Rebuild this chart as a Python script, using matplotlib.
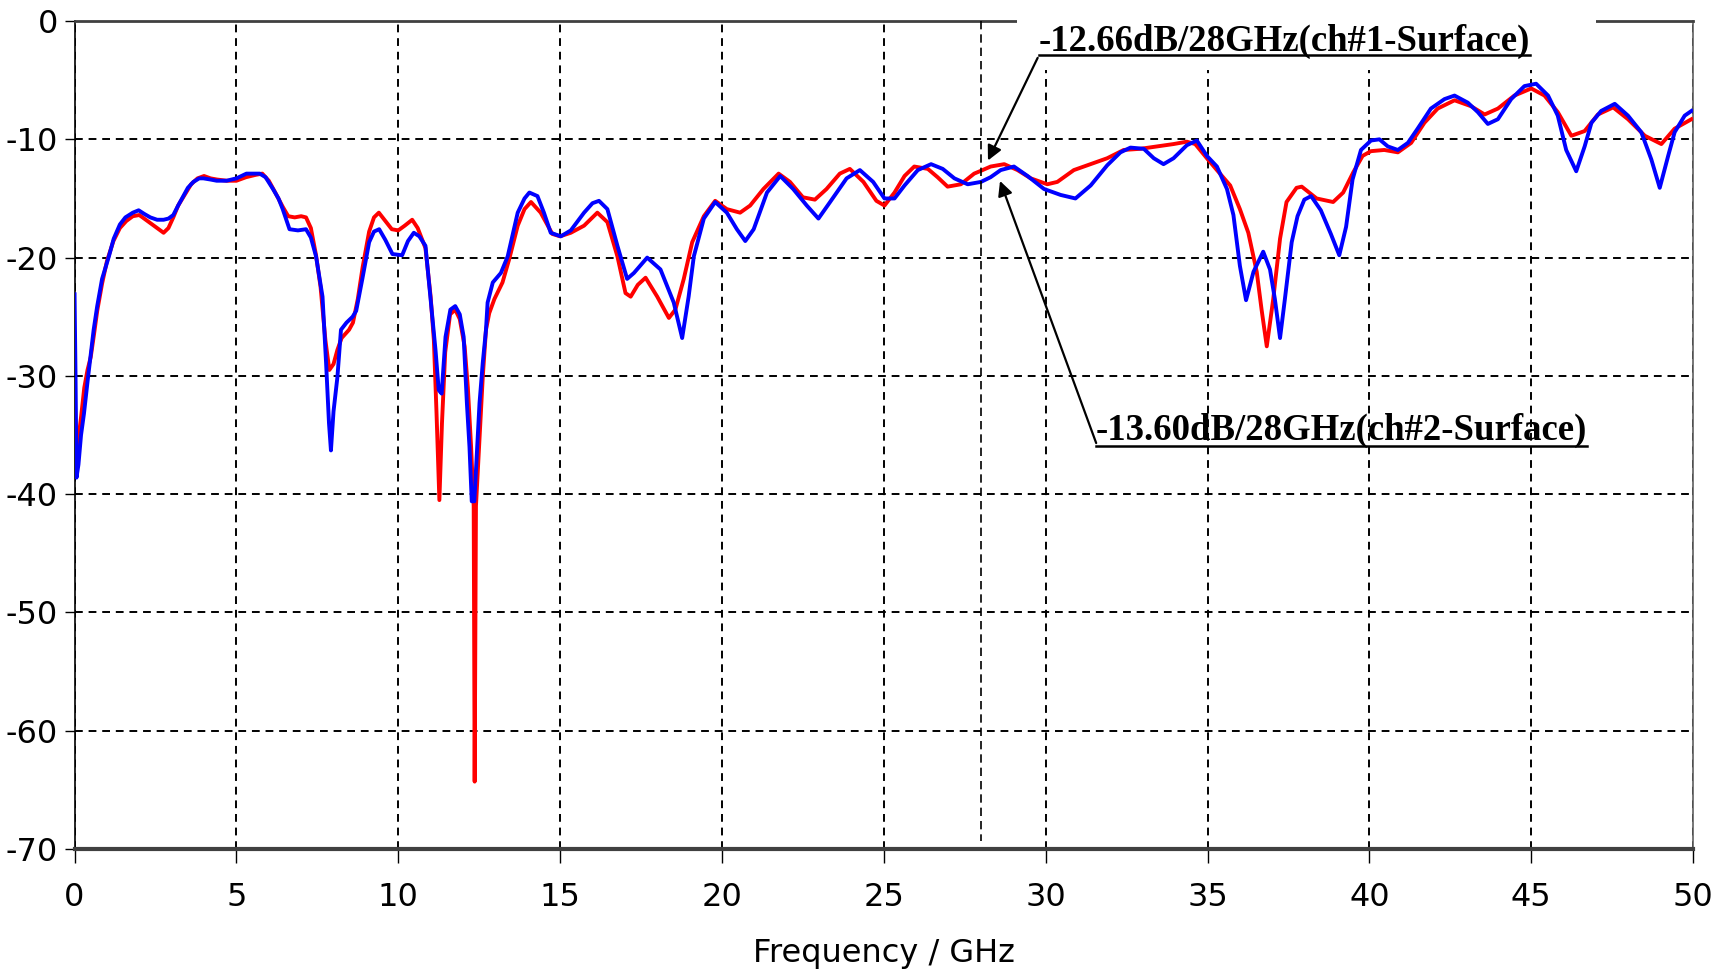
import numpy as np
import matplotlib
matplotlib.use("Agg")
import matplotlib.pyplot as plt
from matplotlib.patches import Rectangle

# ch#1 (red) reflection curve
freq_ch1 = [0.00, 0.05, 0.12, 0.2, 0.3, 0.4, 0.5, 0.6, 0.7, 0.85, 1.0, 1.2, 1.4, 1.6, 1.8, 2.0, 2.2, 2.4, 2.6, 2.75,
            2.9, 3.05, 3.2, 3.4, 3.6, 3.8, 4.0, 4.2, 4.4, 4.7, 5.0, 5.3, 5.6, 5.8, 6.0, 6.2, 6.43, 6.6, 6.8, 7.0,
            7.15, 7.3, 7.46, 7.6, 7.75, 7.87, 8.0, 8.12, 8.25, 8.48, 8.6, 8.75, 8.9, 9.1, 9.25, 9.4, 9.6, 9.8, 10.0, 10.2,
            10.43, 10.6, 10.84, 11.0, 11.1, 11.18, 11.27, 11.35, 11.45, 11.6, 11.76, 11.9, 12.05, 12.15, 12.25, 12.33, 12.36, 12.40, 12.51, 12.61,
            12.71, 12.81, 12.97, 13.22, 13.43, 13.69, 13.9, 14.1, 14.4, 14.76, 15.0, 15.33, 15.74, 16.15, 16.46, 16.77, 17.02, 17.18, 17.4, 17.64,
            18.0, 18.36, 18.56, 18.82, 19.08, 19.44, 19.79, 20.15, 20.56, 20.87, 21.28, 21.75, 22.1, 22.5, 22.87, 23.23, 23.64, 23.95, 24.37, 24.77,
            25.02, 25.33, 25.64, 25.94, 26.36, 26.66, 26.97, 27.38, 27.79, 28.0, 28.3, 28.72, 29.13, 29.54, 30.05, 30.36, 30.87, 31.39, 31.9, 32.41,
            32.93, 33.44, 33.95, 34.36, 34.62, 34.98, 35.29, 35.7, 36.0, 36.26, 36.52, 36.67, 36.83, 37.03, 37.24, 37.44, 37.75, 37.91, 38.37, 38.88,
            39.19, 39.5, 39.79, 40.05, 40.46, 40.88, 41.29, 41.7, 42.11, 42.63, 43.14, 43.56, 43.97, 44.48, 45.0, 45.41, 45.82, 46.24, 46.65, 47.06,
            47.53, 47.99, 48.51, 49.02, 49.43, 49.95]
s_ch1 = [-33.0, -36.5, -35.3, -33.5, -31.0, -29.5, -28.4, -26.5, -24.5, -22.2, -20.3, -18.6, -17.5, -16.9, -16.5, -16.4, -16.8, -17.2, -17.6, -17.9,
         -17.5, -16.6, -15.6, -14.7, -13.8, -13.3, -13.1, -13.3, -13.4, -13.5, -13.5, -13.2, -13.0, -12.9, -13.5, -14.5, -15.7, -16.5, -16.6, -16.5,
         -16.6, -17.5, -19.8, -22.5, -27.0, -29.5, -29.0, -27.8, -26.8, -26.1, -25.5, -23.5, -20.8, -17.8, -16.6, -16.2, -16.9, -17.6, -17.7, -17.3,
         -16.8, -17.5, -19.2, -23.3, -27.0, -33.0, -40.5, -34.0, -28.0, -24.8, -24.4, -25.2, -27.5, -31.0, -36.0, -41.0, -64.3, -41.0, -35.2, -30.1,
         -26.1, -24.7, -23.5, -22.1, -20.1, -17.3, -15.9, -15.3, -16.2, -18.0, -18.2, -17.9, -17.3, -16.2, -17.0, -19.9, -23.0, -23.3, -22.3, -21.7,
         -23.3, -25.1, -24.4, -21.8, -18.7, -16.5, -15.2, -15.9, -16.2, -15.6, -14.2, -12.9, -13.6, -14.9, -15.1, -14.2, -12.9, -12.5, -13.6, -15.2,
         -15.6, -14.5, -13.1, -12.3, -12.5, -13.2, -14.0, -13.8, -12.9, -12.66, -12.3, -12.1, -12.6, -13.3, -13.8, -13.6, -12.6, -12.1, -11.6, -10.9,
         -10.8, -10.6, -10.4, -10.2, -10.4, -11.6, -12.6, -13.9, -15.9, -17.9, -21.2, -24.4, -27.5, -23.5, -18.4, -15.3, -14.1, -14.0, -15.0, -15.3,
         -14.5, -12.8, -11.4, -11.0, -10.9, -11.1, -10.3, -8.6, -7.4, -6.7, -7.2, -7.9, -7.4, -6.3, -5.7, -6.3, -7.7, -9.7, -9.3, -7.9,
         -7.3, -8.3, -9.7, -10.4, -9.1, -8.3]

# ch#2 (blue) reflection curve
freq_ch2 = [0.0, 0.03, 0.06, 0.12, 0.2, 0.29, 0.4, 0.49, 0.59, 0.7, 0.85, 1.06, 1.21, 1.4, 1.57, 1.8, 1.98, 2.15, 2.34, 2.55,
            2.75, 2.9, 3.05, 3.2, 3.36, 3.5, 3.67, 3.85, 3.98, 4.2, 4.39, 4.7, 5.0, 5.31, 5.72, 5.9, 6.13, 6.3, 6.43, 6.64,
            6.9, 7.15, 7.3, 7.46, 7.66, 7.77, 7.86, 7.92, 8.0, 8.12, 8.23, 8.4, 8.59, 8.7, 8.89, 9.1, 9.25, 9.41, 9.6, 9.82,
            10.12, 10.3, 10.48, 10.65, 10.84, 10.99, 11.15, 11.25, 11.34, 11.46, 11.61, 11.76, 11.9, 12.02, 12.12, 12.2, 12.27, 12.35, 12.40, 12.51,
            12.61, 12.71, 12.76, 12.92, 13.17, 13.38, 13.69, 13.9, 14.05, 14.3, 14.5, 14.71, 15.02, 15.33, 15.74, 16.0, 16.2, 16.46, 16.77, 17.07,
            17.28, 17.69, 18.1, 18.51, 18.77, 18.97, 19.13, 19.44, 19.79, 20.15, 20.46, 20.72, 20.98, 21.39, 21.8, 22.2, 22.62, 22.98, 23.34, 23.85,
            24.26, 24.67, 25.02, 25.33, 25.64, 26.05, 26.46, 26.82, 27.18, 27.59, 28.0, 28.3, 28.61, 29.02, 29.44, 29.95, 30.46, 30.92, 31.39, 31.9,
            32.31, 32.62, 33.03, 33.34, 33.64, 33.95, 34.36, 34.67, 34.98, 35.29, 35.6, 35.8, 36.0, 36.19, 36.42, 36.72, 36.93, 37.08, 37.24, 37.39,
            37.6, 37.78, 37.99, 38.2, 38.5, 38.81, 39.07, 39.28, 39.48, 39.74, 40.05, 40.31, 40.57, 40.88, 41.19, 41.49, 41.9, 42.32, 42.63, 43.04,
            43.35, 43.66, 43.97, 44.38, 44.79, 45.15, 45.52, 45.82, 46.08, 46.39, 46.65, 46.86, 47.16, 47.58, 47.99, 48.4, 48.71, 48.97, 49.23, 49.43,
            49.74, 49.95]
s_ch2 = [-23.1, -30.0, -38.6, -37.5, -35.0, -33.2, -30.5, -28.4, -26.1, -24.1, -21.8, -19.9, -18.4, -17.2, -16.6, -16.2, -16.0, -16.3, -16.6, -16.8,
         -16.8, -16.7, -16.4, -15.6, -14.8, -14.1, -13.6, -13.3, -13.3, -13.4, -13.5, -13.5, -13.3, -12.9, -12.9, -13.2, -14.2, -15.0, -15.9, -17.6,
         -17.7, -17.6, -18.3, -19.9, -23.3, -28.9, -34.0, -36.3, -33.0, -30.1, -26.1, -25.5, -25.0, -24.5, -21.8, -18.7, -17.8, -17.6, -18.5, -19.7,
         -19.8, -18.6, -17.9, -18.2, -19.0, -23.3, -27.8, -31.2, -31.5, -26.7, -24.4, -24.1, -24.8, -26.7, -32.3, -36.0, -40.6, -40.6, -38.0, -32.3,
         -28.9, -26.1, -23.8, -22.1, -21.3, -19.9, -16.2, -15.0, -14.5, -14.8, -16.2, -17.9, -18.2, -17.7, -16.2, -15.4, -15.2, -15.9, -19.0, -21.8,
         -21.3, -20.0, -21.0, -23.8, -26.8, -23.3, -19.9, -16.7, -15.3, -16.2, -17.6, -18.6, -17.6, -14.5, -13.1, -14.2, -15.6, -16.7, -15.3, -13.3,
         -12.6, -13.6, -15.0, -15.0, -13.9, -12.6, -12.1, -12.5, -13.3, -13.8, -13.6, -13.2, -12.6, -12.3, -13.1, -14.2, -14.7, -15.0, -13.9, -12.2,
         -11.1, -10.7, -10.8, -11.6, -12.1, -11.6, -10.5, -10.1, -11.4, -12.3, -14.2, -16.4, -20.7, -23.6, -21.2, -19.5, -21.0, -23.5, -26.8, -23.5,
         -18.7, -16.5, -15.1, -14.8, -16.0, -18.0, -19.8, -17.4, -13.4, -10.9, -10.1, -10.0, -10.6, -10.9, -10.3, -9.1, -7.4, -6.6, -6.3, -6.9,
         -7.7, -8.7, -8.3, -6.6, -5.5, -5.3, -6.3, -8.0, -10.9, -12.7, -10.6, -8.6, -7.6, -7.0, -8.0, -9.4, -11.7, -14.1, -11.4, -9.4,
         -8.0, -7.6]

x_ticks = [0, 5, 10, 15, 20, 25, 30, 35, 40, 45, 50]
y_ticks = [0, -10, -20, -30, -40, -50, -60, -70]
marker_freq = 28
label_ch1 = "-12.66dB/28GHz(ch#1-Surface)"
label_ch2 = "-13.60dB/28GHz(ch#2-Surface)"

plt.rcParams['axes.unicode_minus'] = False
tick_font = ['Liberation Sans Narrow', 'DejaVu Sans']

fig = plt.figure(figsize=(17.18, 9.74), dpi=100)
ax = fig.add_axes([0.0434, 0.1283, 0.9421, 0.8501])

ax.plot(freq_ch1, s_ch1, color='#ff0000', lw=2.8, zorder=3)
ax.plot(freq_ch2, s_ch2, color='#0000ff', lw=2.8, zorder=4)

ax.set_xlim(0, 50)
ax.set_ylim(-70, 0)
ax.set_xticks(x_ticks)
ax.set_yticks(y_ticks)
ax.set_xticklabels([str(v) for v in x_ticks], family=tick_font, fontsize=23)
ax.set_yticklabels([str(v) for v in y_ticks], family=tick_font, fontsize=23)
ax.tick_params(axis='x', direction='out', length=10, width=1, pad=14)
ax.tick_params(axis='y', direction='out', length=7, width=1, pad=5)
ax.set_xlabel("Frequency / GHz", family=tick_font, fontsize=23, labelpad=18)

ax.grid(True, color='black', linestyle=(0, (4, 3)), lw=1.4, zorder=1)
ax.set_axisbelow(True)

ax.spines['left'].set_color('black')
ax.spines['left'].set_linewidth(1.2)
ax.spines['bottom'].set_color('#404040')
ax.spines['bottom'].set_linewidth(3)
ax.spines['top'].set_color('#404040')
ax.spines['top'].set_linewidth(2)
ax.spines['right'].set_color('#606060')
ax.spines['right'].set_linewidth(1.2)

# white patch behind the upper label (hides the top frame / grid there)
ax.add_patch(Rectangle((29.1, -4.1), 17.9, 5.0, facecolor='white', edgecolor='none',
                       clip_on=False, zorder=5))

# marker line at 28 GHz
ax.plot([marker_freq, marker_freq], [0, -69.3], color='black', lw=1.2,
        linestyle=(0, (5, 3)), zorder=6)

t1 = ax.text(29.79, -2.55, label_ch1, family=['Liberation Serif'], weight='bold',
             fontsize=26.5, va='baseline', ha='left', zorder=7)
t2 = ax.text(31.55, -35.45, label_ch2, family=['Liberation Serif'], weight='bold',
             fontsize=26.5, va='baseline', ha='left', zorder=7)

fig.canvas.draw()
inv = ax.transData.inverted()
for t, y_u in [(t1, -2.9), (t2, -35.9)]:
    bb = t.get_window_extent()
    x0 = inv.transform((bb.x0, 0))[0]
    x1 = inv.transform((bb.x1, 0))[0]
    ax.plot([x0, x1], [y_u, y_u], color='black', lw=1.8, clip_on=False, zorder=7)

ax.annotate('', xy=(28.18, -12.0), xytext=(29.79, -2.9),
            arrowprops=dict(arrowstyle='-|>', color='black', lw=1.6, mutation_scale=22),
            zorder=8)
ax.annotate('', xy=(28.56, -13.3), xytext=(31.59, -35.9),
            arrowprops=dict(arrowstyle='-|>', color='black', lw=1.6, mutation_scale=22),
            zorder=8)

fig.savefig("out.png", dpi=100)
